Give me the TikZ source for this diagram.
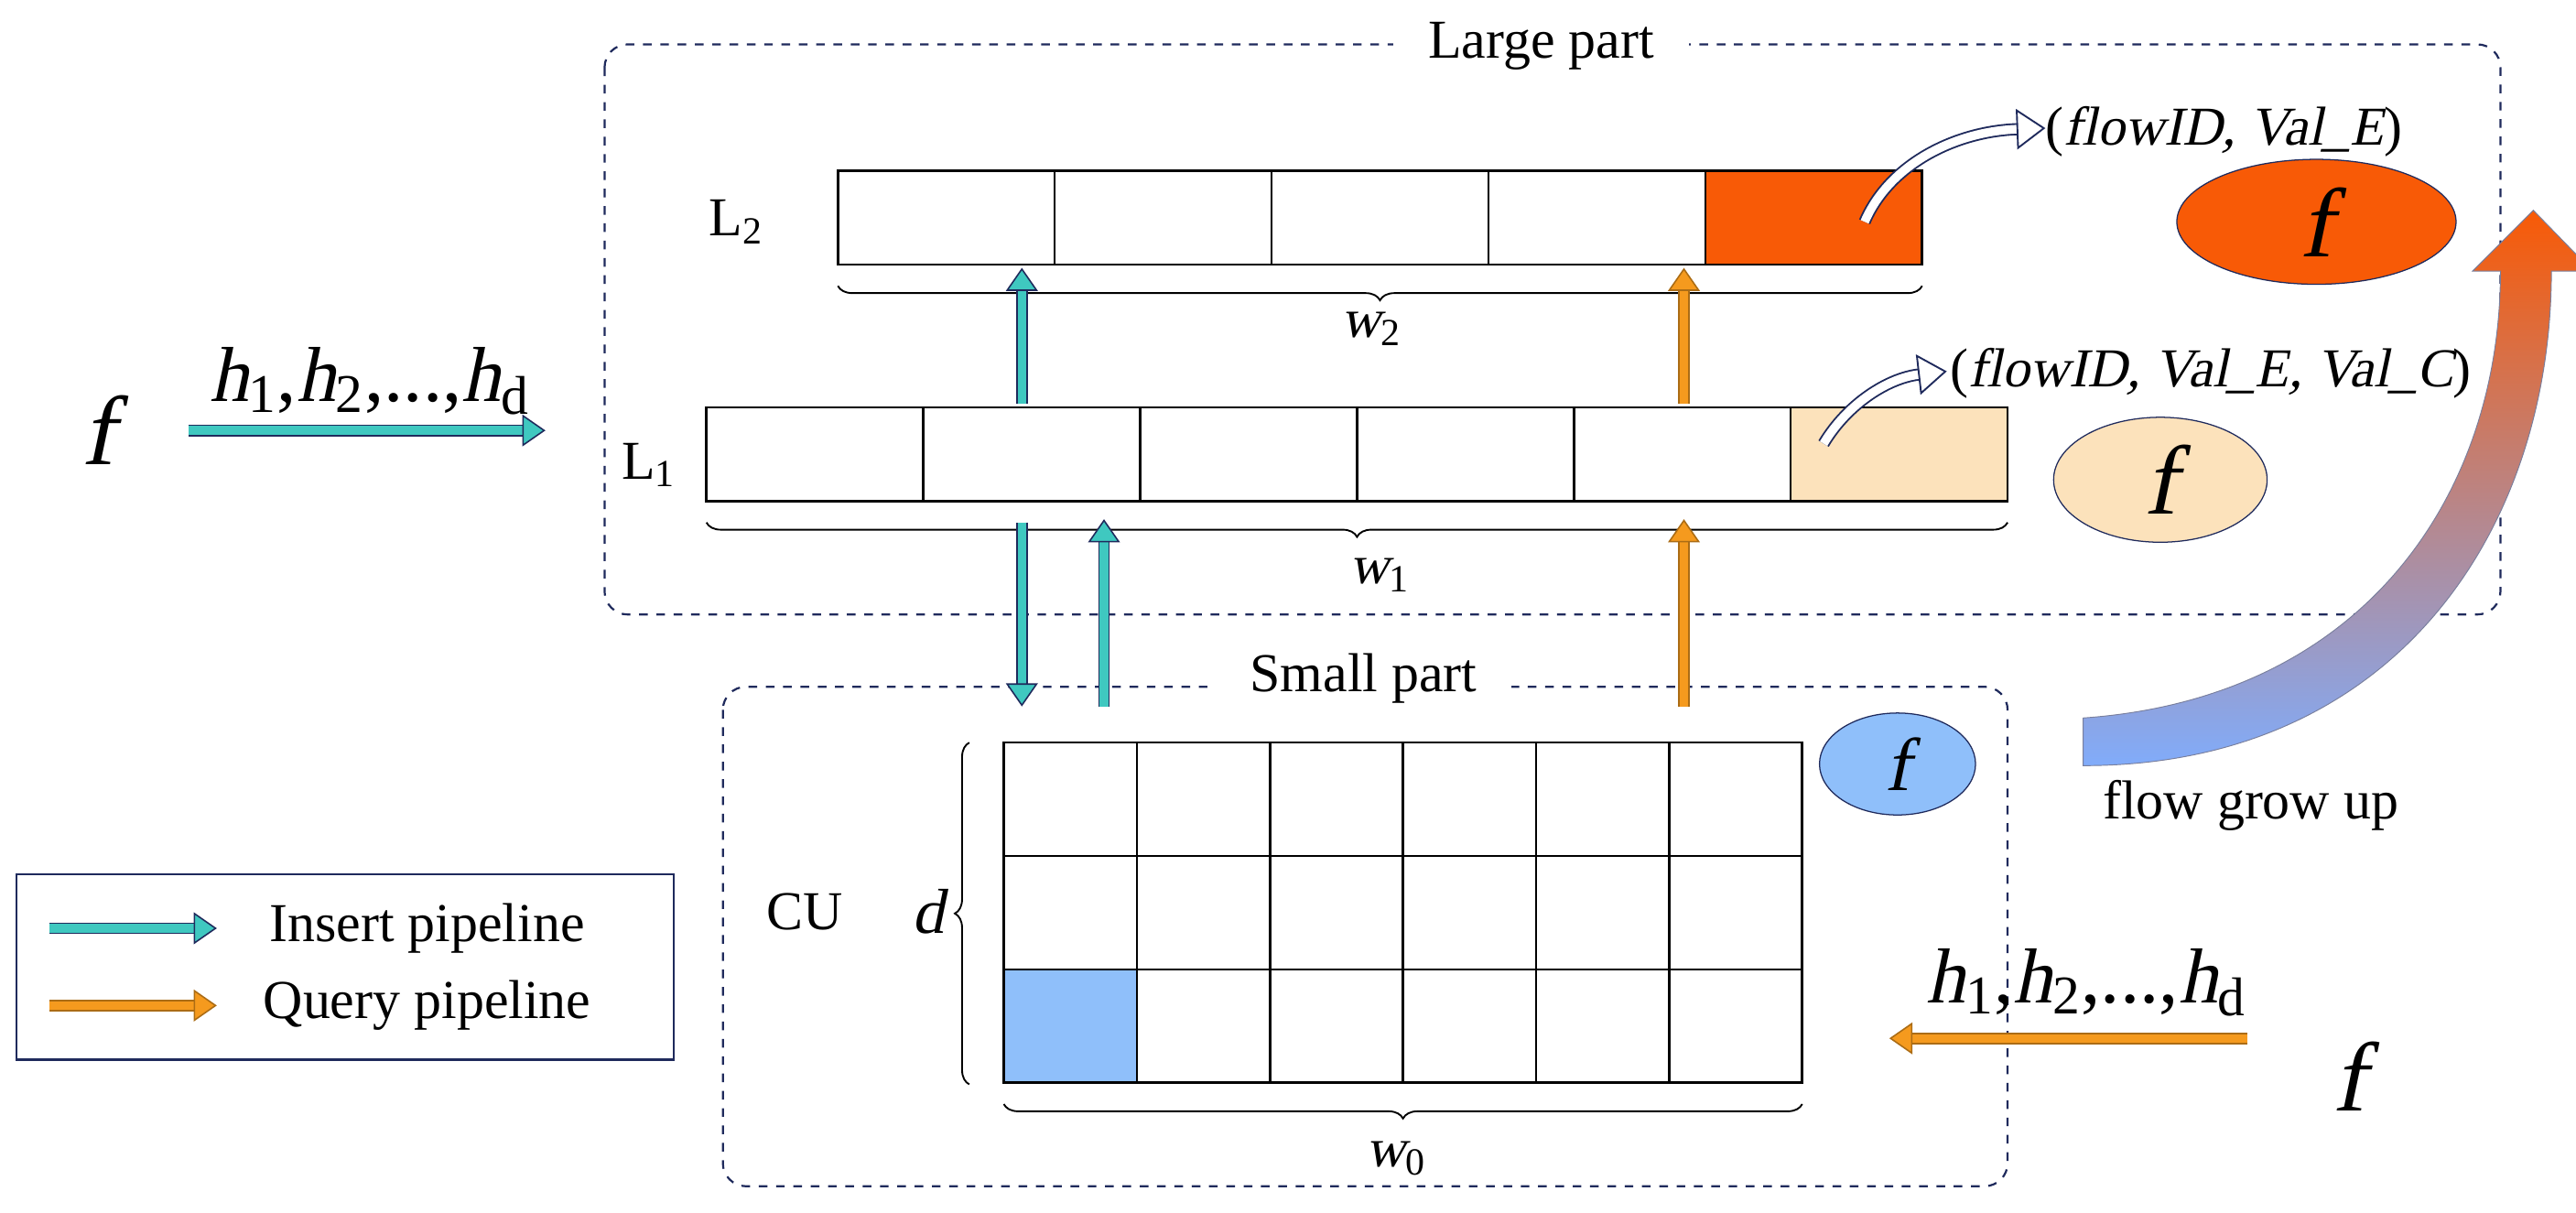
\documentclass[tikz,border=0pt]{standalone}
\usepackage{fontspec}
\setmainfont{Liberation Serif}[ItalicFont={Liberation Serif},ItalicFeatures={FakeSlant=0.21}]
\usetikzlibrary{arrows.meta,decorations.pathreplacing,shapes.geometric}
\definecolor{navy}{HTML}{1F2A5C}
\definecolor{teal1}{HTML}{3FC8C0}
\definecolor{orng}{HTML}{F59A1E}
\definecolor{red1}{HTML}{F85A06}
\definecolor{peach}{HTML}{FCE2BB}
\definecolor{blu}{HTML}{8FBFFA}
\newcommand{\hseq}{\textit{h}\textsubscript{1},\textit{h}\textsubscript{2},...,\textit{h}\textsubscript{d}}
\begin{document}
\begin{tikzpicture}[x=0.02cm,y=-0.02cm,
 cell/.style={draw,line width=0.8pt,minimum width=2.64cm,minimum height=1.14cm,inner sep=0},
 gcell/.style={draw,line width=0.8pt,minimum width=1.62cm,minimum height=1.38cm,inner sep=0},
 part/.style={draw=navy,dashed,rounded corners=8pt,line width=0.7pt},
 brc/.style={decorate,decoration={brace,amplitude=5pt},line width=0.6pt},
 pipeT/.style={draw=navy,double=teal1,double distance=3pt,line width=0.5pt,-{Triangle[open,fill=teal1,length=8pt,width=11pt]}},
 pipeO/.style={draw=orng!70!black,double=orng,double distance=3pt,line width=0.5pt,-{Triangle[open,fill=orng,length=8pt,width=11pt]}},
 hollow/.style={draw=navy,double=white,double distance=3pt,line width=0.6pt,-{Triangle[open,fill=white,length=10pt,width=14pt]}},
 lab/.style={font=\fontsize{19}{22}\selectfont},
 hs/.style={font=\fontsize{27}{30}\selectfont},
 ff/.style={font=\fontsize{34}{36}\selectfont\itshape}]
\useasboundingbox (0,0) rectangle (1568,738);
% parts
\draw[part] (368,27) rectangle (1522,374);
\node[lab,fill=white,inner xsep=12pt] (lp) at (938,28) {Large part};
\draw[part] (440,418) rectangle (1222,722);
\node[lab,fill=white,inner xsep=12pt] (sp) at (830,413) {Small part};
% L2
\foreach \i in {0,...,3} \node[cell] (a\i) at (576+132*\i,132.5) {};
\node[cell,fill=red1] (a4) at (1104,132.5) {};
\node[lab] (L2) at (448,135) {L\textsubscript{2}};
\draw[brc,decoration={mirror}] (510,174) -- (1170,174);
\node[lab] (w2) at (835,200) {\textit{w}\textsubscript{2}};
% L1
\foreach \i in {0,...,4} \node[cell] (b\i) at (496+132*\i,276.5) {};
\node[cell,fill=peach] (b5) at (1156,276.5) {};
\node[lab] (L1) at (395,283) {L\textsubscript{1}};
\draw[brc,decoration={mirror}] (430,318) -- (1222,318);
\node[lab] (w1) at (840,350) {\textit{w}\textsubscript{1}};
% ellipses
\node[ellipse,draw=navy,fill=red1,minimum width=3.4cm,minimum height=1.5cm,ff] (e2) at (1410,135) {f};
\node[ellipse,draw=navy,fill=peach,minimum width=2.6cm,minimum height=1.4cm,ff] (e1) at (1315,292) {f};
\node[ellipse,draw=navy,fill=blu,minimum width=1.9cm,minimum height=1.1cm,font=\fontsize{26}{28}\selectfont\itshape] (e0) at (1155,465) {f};
% grid
\foreach \r in {0,1,2} \foreach \c in {0,...,5} \node[gcell] (g\r\c) at (651.5+81*\c,486.5+69*\r) {};
\node[gcell,fill=blu] at (651.5,624.5) {};
\draw[brc] (590,660) -- (590,452);
\node[font=\fontsize{22}{24}\selectfont\itshape] (d) at (565,555) {d};
\node[lab] (cu) at (490,555) {CU};
\draw[brc,decoration={mirror}] (611,672) -- (1097,672);
\node[lab] (w0) at (850,705) {\textit{w}\textsubscript{0}};
% vertical arrows
\draw[pipeT] (622,246) -- (622,163);
\draw[pipeO] (1025,246) -- (1025,163);
\draw[pipeT] (622,318) -- (622,430);
\draw[pipeT] (672,430) -- (672,316);
\draw[pipeO] (1025,430) -- (1025,316);
% left input
\node[ff] (fl) at (60,262) {f};
\coordinate (ls) at (115,262); \coordinate (le) at (332,262);
\draw[pipeT] (ls) -- (le);
\node[hs] (hl) at (225,232) {\hseq};
% right input
\node[ff] (fr) at (1430,655) {f};
\coordinate (rs) at (1368,632); \coordinate (re) at (1150,632);
\draw[pipeO] (rs) -- (re);
\node[hs] (hr) at (1270,598) {\hseq};
% hollow curved arrows
\coordinate (c1) at (1135,135); \coordinate (c1e) at (1245,78);
\draw[hollow] (c1) .. controls (1150,100) and (1190,80) .. (c1e);
\node[lab,anchor=west,inner sep=0] (t1) at (1245,80) {(\textit{flowID, Val\_E})};
\coordinate (c2) at (1110,270); \coordinate (c2e) at (1185,226);
\draw[hollow] (c2) .. controls (1125,245) and (1150,230) .. (c2e);
\node[lab,anchor=west,inner sep=0] (t2) at (1187,227) {(\textit{flowID, Val\_E, Val\_C})};
% grow arrow
\shade[top color=red1,middle color=peach,bottom color=blu!90!blue,draw=navy!60,line width=0.3pt]
 (1268,437) .. controls (1440,425) and (1522,300) .. (1522,165)
 -- (1505,165) -- (1542,128) -- (1578,165) -- (1553,165)
 .. controls (1553,320) and (1460,466) .. (1268,466) -- cycle;
\node[lab] (fg) at (1370,490) {flow grow up};
% legend
\draw[navy,line width=0.8pt] (10,532) rectangle (410,645);
\coordinate (i1) at (30,565); \coordinate (i2) at (132,565);
\draw[pipeT] (i1) -- (i2);
\node[lab] (it) at (260,565) {Insert pipeline};
\coordinate (q1) at (30,612); \coordinate (q2) at (132,612);
\draw[pipeO] (q1) -- (q2);
\node[lab] (qt) at (260,612) {Query pipeline};
\end{tikzpicture}
\end{document}
